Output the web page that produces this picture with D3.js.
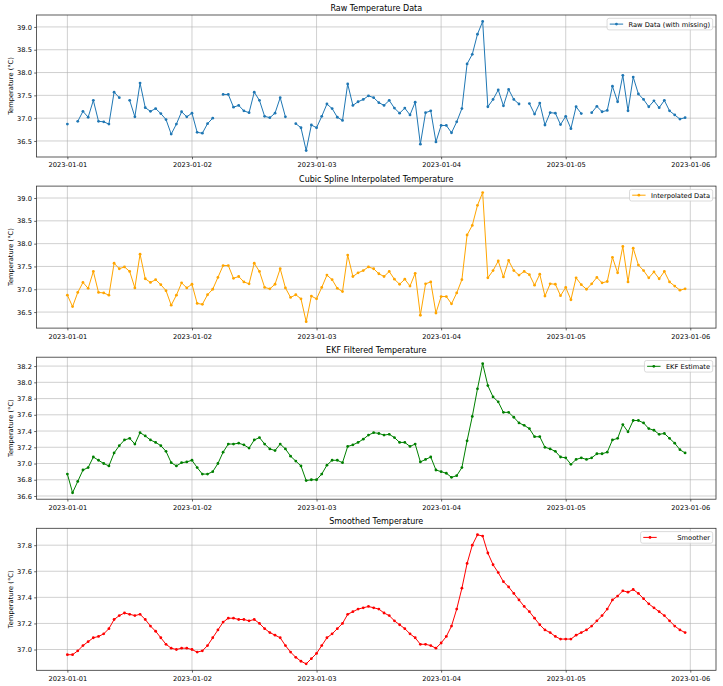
<!DOCTYPE html>
<html lang="en">
<head>
<meta charset="UTF-8">
<title>Temperature Filtering</title>
<script src="https://d3js.org/d3.v7.min.js"></script>
<style>
    body { margin: 0; background: #fff; }
    text { font-family: "DejaVu Sans", sans-serif; fill: #000; }
</style>
</head>
<body>
<div id="chart"></div>
<script>
    // hourly readings from 2023-01-01 00:00, null = missing sample
    var rawTemp = [
        36.87, null, 36.93, 37.15, 37.02, 37.39, 36.93, 36.92, 36.87, 37.57,
        37.45, null, 37.39, 37.03, 37.77, 37.23, 37.15, 37.21, 37.10, 36.97,
        36.65, 36.87, 37.14, 37.03, 37.11, 36.69, 36.67, 36.88, 37.00, null,
        37.52, 37.52, 37.24, 37.28, 37.16, 37.12, 37.57, 37.39, 37.04, 37.01,
        37.11, 37.45, 37.03, null, 36.88, 36.79, 36.29, 36.85, 36.79, 37.04,
        37.31, 37.21, 37.02, 36.95, 37.75, 37.28, 37.36, 37.41, 37.49, 37.45,
        37.34, 37.28, 37.39, 37.22, 37.11, 37.22, 37.07, 37.35, 36.43, 37.12,
        37.16, 36.48, 36.84, 36.84, 36.68, 36.92, 37.21, 38.19, 38.40, 38.84,
        39.12, 37.25, 37.41, 37.62, 37.27, 37.63, 37.41, 37.31, null, 37.32,
        37.09, 37.33, 36.85, 37.12, 37.11, 36.86, 37.04, 36.77, 37.25, 37.10,
        null, 37.12, 37.26, 37.14, 37.17, 37.70, 37.36, 37.94, 37.16, 37.90,
        37.53, 37.41, 37.25, 37.38, 37.23, 37.39, 37.16, 37.07, 36.98, 37.01
    ];
    var interpTemp = [
        36.87, 36.62, 36.93, 37.15, 37.02, 37.39, 36.93, 36.92, 36.87, 37.57,
        37.45, 37.49, 37.39, 37.03, 37.77, 37.23, 37.15, 37.21, 37.10, 36.97,
        36.65, 36.87, 37.14, 37.03, 37.11, 36.69, 36.67, 36.88, 37.00, 37.26,
        37.52, 37.52, 37.24, 37.28, 37.16, 37.12, 37.57, 37.39, 37.04, 37.01,
        37.11, 37.45, 37.03, 36.82, 36.88, 36.79, 36.29, 36.85, 36.79, 37.04,
        37.31, 37.21, 37.02, 36.95, 37.75, 37.28, 37.36, 37.41, 37.49, 37.45,
        37.34, 37.28, 37.39, 37.22, 37.11, 37.22, 37.07, 37.35, 36.43, 37.12,
        37.16, 36.48, 36.84, 36.84, 36.68, 36.92, 37.21, 38.19, 38.40, 38.84,
        39.12, 37.25, 37.41, 37.62, 37.27, 37.63, 37.41, 37.31, 37.39, 37.32,
        37.09, 37.33, 36.85, 37.12, 37.11, 36.86, 37.04, 36.77, 37.25, 37.10,
        37.00, 37.12, 37.26, 37.14, 37.17, 37.70, 37.36, 37.94, 37.16, 37.90,
        37.53, 37.41, 37.25, 37.38, 37.23, 37.39, 37.16, 37.07, 36.98, 37.01
    ];
    var ekfTemp = [
        36.87, 36.64, 36.78, 36.92, 36.95, 37.08, 37.04, 37.00, 36.97, 37.13,
        37.22, 37.29, 37.31, 37.24, 37.38, 37.34, 37.29, 37.26, 37.22, 37.15,
        37.01, 36.97, 37.01, 37.02, 37.04, 36.95, 36.87, 36.87, 36.90, 37.00,
        37.14, 37.24, 37.24, 37.25, 37.23, 37.19, 37.29, 37.32, 37.24, 37.18,
        37.16, 37.24, 37.18, 37.09, 37.03, 36.97, 36.79, 36.80, 36.80, 36.87,
        36.98, 37.04, 37.04, 37.01, 37.21, 37.23, 37.26, 37.30, 37.35, 37.38,
        37.37, 37.35, 37.36, 37.32, 37.26, 37.26, 37.21, 37.24, 37.02, 37.05,
        37.08, 36.92, 36.90, 36.88, 36.83, 36.85, 36.95, 37.28, 37.58, 37.92,
        38.23, 37.96, 37.82, 37.76, 37.63, 37.63, 37.57, 37.50, 37.47, 37.43,
        37.33, 37.33, 37.20, 37.18, 37.15, 37.08, 37.07, 36.99, 37.05, 37.07,
        37.05, 37.07, 37.12, 37.12, 37.14, 37.29, 37.31, 37.48, 37.39, 37.53,
        37.53, 37.50, 37.43, 37.41, 37.36, 37.37, 37.31, 37.25, 37.17, 37.13
    ];
    var smoothTemp = [
        36.96, 36.96, 36.99, 37.03, 37.06, 37.09, 37.10, 37.12, 37.16, 37.23,
        37.26, 37.28, 37.27, 37.26, 37.27, 37.23, 37.18, 37.14, 37.09, 37.04,
        37.01, 37.00, 37.01, 37.01, 37.00, 36.98, 36.99, 37.03, 37.09, 37.15,
        37.21, 37.24, 37.24, 37.23, 37.23, 37.22, 37.23, 37.20, 37.16, 37.13,
        37.11, 37.09, 37.03, 36.98, 36.94, 36.91, 36.89, 36.93, 36.97, 37.03,
        37.09, 37.12, 37.16, 37.20, 37.27, 37.29, 37.31, 37.32, 37.33, 37.32,
        37.31, 37.28, 37.26, 37.22, 37.19, 37.16, 37.12, 37.09, 37.04, 37.04,
        37.03, 37.01, 37.05, 37.10, 37.18, 37.31, 37.47, 37.66, 37.80, 37.88,
        37.87, 37.74, 37.65, 37.59, 37.52, 37.48, 37.43, 37.38, 37.33, 37.29,
        37.24, 37.19, 37.15, 37.13, 37.10, 37.08, 37.08, 37.08, 37.11, 37.13,
        37.15, 37.18, 37.22, 37.26, 37.31, 37.38, 37.41, 37.45, 37.44, 37.46,
        37.43, 37.39, 37.35, 37.32, 37.29, 37.26, 37.22, 37.18, 37.15, 37.13
    ];

    var dayTicks = ["2023-01-01", "2023-01-02", "2023-01-03", "2023-01-04", "2023-01-05", "2023-01-06"];
    var rawTicks = [36.5, 37.0, 37.5, 38.0, 38.5, 39.0];
    var ekfTicks = [36.6, 36.8, 37.0, 37.2, 37.4, 37.6, 37.8, 38.0, 38.2];
    var smoothTicks = [37.0, 37.2, 37.4, 37.6, 37.8];

    var W = 723, H = 686;
    var left = 36.5, right = 716, panelH = 142;
    var tops = [15, 186.1, 357.2, 528.3];
    var fs = 6.7;

    var svg = d3.select("#chart").append("svg")
        .attr("width", W)
        .attr("height", H);

    var times = rawTemp.map(function (d, i) { return new Date(Date.UTC(2023, 0, 1, i)); });
    var dayDates = dayTicks.map(function (s) { return new Date(s + "T00:00:00Z"); });

    // matplotlib style 5% margins on x
    var x = d3.scaleUtc()
        .domain([d3.utcMinute.offset(times[0], -357), d3.utcMinute.offset(times[times.length - 1], 357)])
        .range([left, right]);

    function drawPanel(k, title, values, color, yTicks, legendLabel, legendGap) {
        var top = tops[k], bottom = top + panelH;
        var ext = d3.extent(values.filter(function (v) { return v !== null; }));
        var pad = (ext[1] - ext[0]) * 0.05;
        var y = d3.scaleLinear()
            .domain([ext[0] - pad, ext[1] + pad])
            .range([bottom, top]);

        var g = svg.append("g");

        // grid
        g.selectAll(".vgrid").data(dayDates).enter().append("line")
            .attr("x1", function (d) { return x(d); })
            .attr("x2", function (d) { return x(d); })
            .attr("y1", top).attr("y2", bottom)
            .attr("stroke", "#b0b0b0").attr("stroke-opacity", 0.75).attr("stroke-width", 0.8);
        g.selectAll(".hgrid").data(yTicks).enter().append("line")
            .attr("x1", left).attr("x2", right)
            .attr("y1", function (d) { return y(d); })
            .attr("y2", function (d) { return y(d); })
            .attr("stroke", "#b0b0b0").attr("stroke-opacity", 0.75).attr("stroke-width", 0.8);

        // axes
        var xAxis = g.append("g")
            .attr("transform", "translate(0," + bottom + ")")
            .call(d3.axisBottom(x).tickValues(dayDates)
                .tickFormat(function (d, i) { return dayTicks[i]; })
                .tickSize(2.3).tickSizeOuter(0).tickPadding(3.4));
        var yAxis = g.append("g")
            .attr("transform", "translate(" + left + ",0)")
            .call(d3.axisLeft(y).tickValues(yTicks)
                .tickFormat(d3.format(".1f"))
                .tickSize(2.3).tickSizeOuter(0).tickPadding(2.3));
        [xAxis, yAxis].forEach(function (a) {
            a.select(".domain").remove();
            a.selectAll("line").attr("stroke", "#222").attr("stroke-width", 0.7);
            a.selectAll("text").attr("font-size", fs).attr("font-family", "DejaVu Sans").attr("fill", "#222");
        });

        g.append("rect")
            .attr("x", left).attr("y", top)
            .attr("width", right - left).attr("height", panelH)
            .attr("fill", "none").attr("stroke", "#333").attr("stroke-width", 0.8);

        // series
        var line = d3.line()
            .defined(function (d) { return d !== null; })
            .x(function (d, i) { return x(times[i]); })
            .y(function (d) { return y(d); });
        g.append("path")
            .datum(values)
            .attr("d", line)
            .attr("fill", "none")
            .attr("stroke", color)
            .attr("stroke-width", 1);
        g.selectAll(".dot")
            .data(values.map(function (v, i) { return { v: v, t: times[i] }; })
                .filter(function (d) { return d.v !== null; }))
            .enter().append("circle")
            .attr("cx", function (d) { return x(d.t); })
            .attr("cy", function (d) { return y(d.v); })
            .attr("r", 1.4)
            .attr("fill", color);

        // title + y label
        g.append("text")
            .attr("x", (left + right) / 2).attr("y", top - 4)
            .attr("text-anchor", "middle")
            .attr("font-size", 8)
            .text(title);
        g.append("text")
            .attr("transform", "translate(12.7," + (top + panelH / 2) + ") rotate(-90)")
            .attr("text-anchor", "middle")
            .attr("font-size", fs)
            .text("Temperature (°C)");

        // legend, upper right
        var lg = g.append("g");
        var box = lg.append("rect");
        var label = lg.append("text").attr("font-size", fs).text(legendLabel);
        var tw = label.node().getComputedTextLength();
        var bw = 3.6 * fs + legendGap + tw, bh = 11.6;
        var bx = right - 3.3 - bw, by = top + 3.3;
        box.attr("x", bx).attr("y", by).attr("width", bw).attr("height", bh)
            .attr("rx", 2).attr("fill", "#fff").attr("fill-opacity", 0.8)
            .attr("stroke", "#cccccc").attr("stroke-width", 0.7);
        lg.append("line")
            .attr("x1", bx + 0.4 * fs).attr("x2", bx + 2.4 * fs)
            .attr("y1", by + bh / 2).attr("y2", by + bh / 2)
            .attr("stroke", color).attr("stroke-width", 1);
        lg.append("circle")
            .attr("cx", bx + 1.4 * fs).attr("cy", by + bh / 2)
            .attr("r", 1.4).attr("fill", color);
        label.attr("x", bx + 3.2 * fs + legendGap).attr("y", by + bh / 2 + 0.36 * fs);
    }

    drawPanel(0, "Raw Temperature Data", rawTemp, "#1f77b4", rawTicks, "Raw Data (with missing)", 0);
    drawPanel(1, "Cubic Spline Interpolated Temperature", interpTemp, "orange", rawTicks, "Interpolated Data", 0);
    drawPanel(2, "EKF Filtered Temperature", ekfTemp, "green", ekfTicks, "EKF Estimate", 0);
    drawPanel(3, "Smoothed Temperature", smoothTemp, "red", smoothTicks, "Smoother", 15.3);
</script>
</body>
</html>
